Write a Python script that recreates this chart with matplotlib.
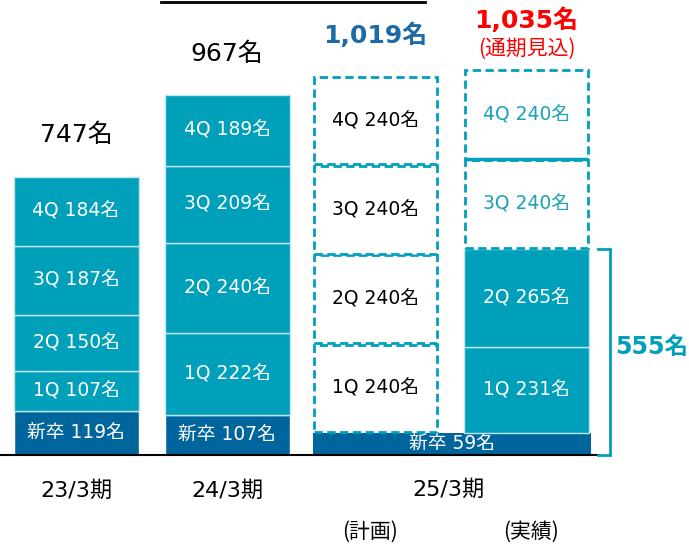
import matplotlib
matplotlib.use("Agg")
import matplotlib.pyplot as plt
from matplotlib.lines import Line2D

plt.rcParams['font.family'] = ['DejaVu Sans', 'Noto Sans CJK JP']

# ---- data ----
periods = ["23/3期", "24/3期", "25/3期"]
sub_labels = ["(計画)", "(実績)"]
quarters = ["1Q", "2Q", "3Q", "4Q"]
shinsotsu = [119, 107, 59, 59]          # 新卒 per bar (25/3 shared)
q_2303 = [107, 150, 187, 184]
q_2403 = [222, 240, 209, 189]
q_2503_plan = [240, 240, 240, 240]
q_2503_act = [231, 265, 240, 240]
act_is_solid = [True, True, False, False]
totals = [747, 967, 1019, 1035]
bracket_value = 555

TEAL = "#00A0BA"
NAVY = "#00659C"
BLUE_T = "#1C6AA6"
RED = "#FF0000"

W, H = 689, 546
fig = plt.figure(figsize=(W / 100, H / 100), dpi=100)
ax = fig.add_axes([0, 0, 1, 1])
ppu = 0.372           # pixels per person
base_px = 455
ax.set_xlim(0, W)
ax.set_ylim(-(H - base_px) / ppu, base_px / ppu)
ax.axis("off")

def py(px):
    return (base_px - px) / ppu

xc = [76, 227, 375.5, 526.5]
bw = 125
LBL = 13.5

# solid stacked bars 23/3 and 24/3
for i, qs in enumerate([q_2303, q_2403]):
    ax.bar(xc[i], shinsotsu[i], bw, bottom=0, color=NAVY, edgecolor="white", linewidth=1)
    ax.text(xc[i], shinsotsu[i] / 2, f"新卒 {shinsotsu[i]}名", color="white",
            ha="center", va="center", fontsize=LBL)
    bottom = shinsotsu[i]
    for q, v in zip(quarters, qs):
        ax.bar(xc[i], v, bw, bottom=bottom, color=TEAL, edgecolor="#BFE6EE", linewidth=1)
        ax.text(xc[i], bottom + v / 2, f"{q} {v}名", color="white",
                ha="center", va="center", fontsize=LBL)
        bottom += v

# shared 新卒 bar for 25/3
left = xc[2] - bw / 2
right = xc[3] + bw / 2 + 2
ax.bar((left + right) / 2, shinsotsu[2], right - left, bottom=0, color=NAVY, linewidth=0)
ax.text((left + right) / 2, shinsotsu[2] / 2 - 1, f"新卒 {shinsotsu[2]}名", color="white",
        ha="center", va="center", fontsize=LBL)

# 25/3 plan (dashed boxes)
bottom = shinsotsu[2]
for q, v in zip(quarters, q_2503_plan):
    ax.bar(xc[2], v - 4, bw - 2, bottom=bottom + 2, facecolor="white", edgecolor=TEAL,
           linewidth=2, linestyle=(0, (3, 1.6)))
    ax.text(xc[2], bottom + v / 2, f"{q} {v}名", color="black",
            ha="center", va="center", fontsize=LBL)
    bottom += v

# 25/3 actual
bottom = shinsotsu[3]
for q, v, solid in zip(quarters, q_2503_act, act_is_solid):
    if solid:
        ax.bar(xc[3], v, bw, bottom=bottom, color=TEAL, edgecolor="#BFE6EE", linewidth=1)
        ax.text(xc[3], bottom + v / 2, f"{q} {v}名", color="white",
                ha="center", va="center", fontsize=LBL)
    else:
        ax.bar(xc[3], v - 2, bw - 2, bottom=bottom + 1, facecolor="white", edgecolor=TEAL,
               linewidth=2, linestyle=(0, (3, 1.6)))
        ax.text(xc[3], bottom + v / 2, f"{q} {v}名", color="#1AA3B8",
                ha="center", va="center", fontsize=LBL)
    bottom += v
# solid line between actual 3Q and 4Q
b34 = shinsotsu[3] + sum(q_2503_act[:3])
ax.hlines(b34, xc[3] - bw / 2 + 1, xc[3] + bw / 2 - 1, color=TEAL, linewidth=2.5)

# baseline
ax.hlines(0, 0, 600, color="black", linewidth=1.5)

# totals
ax.text(xc[0], py(135), f"{totals[0]}名", ha="center", va="center", fontsize=18, color="black")
ax.text(xc[1], py(54), f"{totals[1]}名", ha="center", va="center", fontsize=18, color="black")
ax.text(xc[2], py(35), f"{totals[2]:,}名", ha="center", va="center", fontsize=18,
        fontweight="bold", color=BLUE_T)
ax.text(xc[3], py(20), f"{totals[3]:,}名", ha="center", va="center", fontsize=18,
        fontweight="bold", color=RED)
ax.text(xc[3], py(49), "(通期見込)", ha="center", va="center", fontsize=15, color=RED,
        family=['Noto Sans CJK JP'])

# bracket
bx0, bx1 = 598, 610
ax.plot([bx0, bx1, bx1, bx0], [bracket_value, bracket_value, 1, 1], color=TEAL, linewidth=2,
        solid_joinstyle="miter")
ax.text(652, py(347), f"{bracket_value}名", ha="center", va="center", fontsize=17,
        fontweight="bold", color=TEAL)

# x labels
ax.text(xc[0], py(491), periods[0], ha="center", va="center", fontsize=16)
ax.text(xc[1], py(491), periods[1], ha="center", va="center", fontsize=16)
ax.text(449, py(490), periods[2], ha="center", va="center", fontsize=16)
ax.text(370, py(532), sub_labels[0], ha="center", va="center", fontsize=15,
        family=['Noto Sans CJK JP'])
ax.text(531, py(532), sub_labels[1], ha="center", va="center", fontsize=15,
        family=['Noto Sans CJK JP'])

# top decorative line
fig.add_artist(Line2D([161 / W, 425 / W], [1 - 1.5 / H, 1 - 1.5 / H], color="black", linewidth=2))

fig.savefig("out.png", dpi=100)
